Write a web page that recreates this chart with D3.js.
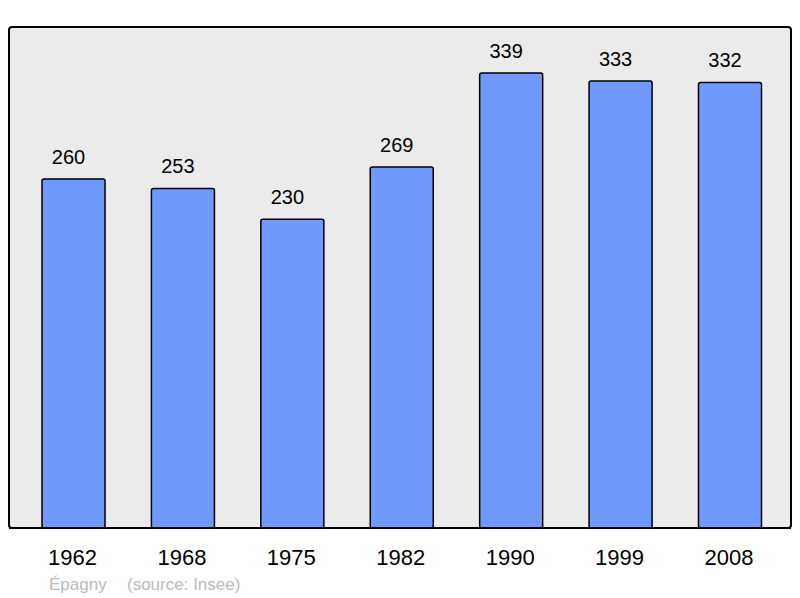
<!DOCTYPE html>
<html>
<head>
<meta charset="utf-8">
<script src="https://cdn.jsdelivr.net/npm/d3@7"></script>
<style>
  body { margin: 0; background: #fff; }
  svg { display: block; font-family: "Liberation Sans", Arial, sans-serif; }
</style>
</head>
<body>
<svg id="chart" width="800" height="598"></svg>
<script>
// data
const years = ["1962", "1968", "1975", "1982", "1990", "1999", "2008"];
const population = [260, 253, 230, 269, 339, 333, 332];
const commune = "Épagny";
const source = "(source: Insee)";

const svg = d3.select("#chart");

const box = {left: 9, top: 27, right: 791, bottom: 528};

// plot frame
svg.append("rect")
    .attr("x", box.left)
    .attr("y", box.top)
    .attr("width", box.right - box.left)
    .attr("height", box.bottom - box.top)
    .attr("rx", 3)
    .attr("fill", "#ebebeb")
    .attr("stroke", "#000")
    .attr("stroke-width", 2);

const xScale = d3.scaleBand()
    .domain(years)
    .range([box.left + 33, box.right - 29.5])
    .paddingInner(0.424)
    .paddingOuter(0);

const yScale = d3.scaleLinear()
    .domain([0, 373.3])
    .range([box.bottom, box.top]);

const bars = svg.selectAll(".bar")
    .data(years.map((y, i) => ({year: y, value: population[i]})))
    .enter()
    .append("g");

bars.append("rect")
    .attr("x", d => xScale(d.year))
    .attr("y", d => yScale(d.value))
    .attr("width", xScale.bandwidth())
    .attr("height", d => box.bottom - yScale(d.value))
    .attr("rx", 2)
    .attr("fill", "#7099ff")
    .attr("stroke", "#000")
    .attr("stroke-width", 1.5);

// value labels sit a little left of the bar centre
bars.append("text")
    .attr("x", d => xScale(d.year) + xScale.bandwidth() / 2 - 5)
    .attr("y", d => yScale(d.value) - 15)
    .attr("text-anchor", "middle")
    .attr("font-size", 20)
    .attr("fill", "#000")
    .text(d => d.value);

// redraw bottom edge over bars
svg.append("line")
    .attr("x1", box.left)
    .attr("x2", box.right)
    .attr("y1", box.bottom)
    .attr("y2", box.bottom)
    .attr("stroke", "#000")
    .attr("stroke-width", 2);

svg.append("g")
    .selectAll("text")
    .data(years)
    .enter()
    .append("text")
    .attr("x", d => xScale(d) + xScale.bandwidth() / 2 - 1)
    .attr("y", 565)
    .attr("text-anchor", "middle")
    .attr("font-size", 22)
    .attr("fill", "#000")
    .text(d => d);

svg.append("text")
    .attr("x", 49)
    .attr("y", 590)
    .attr("font-size", 17)
    .attr("fill", "#bbbbbb")
    .text(commune);

svg.append("text")
    .attr("x", 127)
    .attr("y", 590)
    .attr("font-size", 17)
    .attr("fill", "#bbbbbb")
    .text(source);
</script>
</body>
</html>
